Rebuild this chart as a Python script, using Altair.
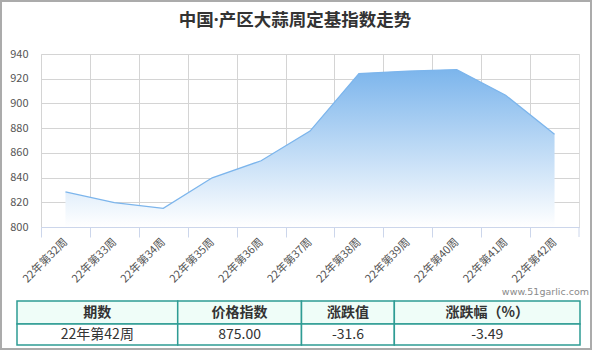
import altair as alt
import pandas as pd

# ---------------- data ----------------
weeks = ["22年第32周", "22年第33周", "22年第34周", "22年第35周", "22年第36周", "22年第37周",
         "22年第38周", "22年第39周", "22年第40周", "22年第41周", "22年第42周"]
index_values = [828.4, 819.7, 815.1, 839.8, 853.6, 877.6, 924.2, 926.2, 927.4, 906.6, 875.0]
y_ticks = [800, 820, 840, 860, 880, 900, 920, 940]

table_header = ["期数", "价格指数", "涨跌值", "涨跌幅（%）"]
table_row = ["22年第42周", "875.00", "-31.6", "-3.49"]

title_text = "中国·产区大蒜周定基指数走势"
watermark = "www.51garlic.com"

# ---------------- layout constants ----------------
W, H = 538, 173             # plot area
PAD_L, PAD_T = 41, 54
FONT = "Noto Sans CJK SC"
col_widths = [161, 124, 93, 186]  # table column widths (px)
row_heights = [23, 21]            # header, data row (px)
TABLE_X = (-24, 539)              # table span relative to plot origin
TABLE_Y = (247, 291)

half_step = W / len(weeks) / 2

df = pd.DataFrame({"week": weeks, "value": index_values})

grad = alt.Gradient(
    gradient="linear",
    stops=[alt.GradientStop(color="#7cb5ec", offset=0),
           alt.GradientStop(color="#ffffff", offset=1)],
    x1=0, x2=0, y1=0, y2=1,
)

x_enc = alt.X(
    "week:N", sort=weeks, title=None,
    scale=alt.Scale(type="point", padding=0.5),
    axis=alt.Axis(
        labelAngle=-45, labelAlign="right", labelBaseline="middle",
        labelFontSize=11, labelColor="#555555", labelFont=FONT, labelPadding=3,
        labelOverlap=False, labelBound=False,
        tickOffset=-half_step, labelOffset=half_step,
        tickSize=10, tickColor="#ccd6eb", domainColor="#ccd6eb",
        grid=True, gridColor="#d4d4d4",
    ),
)
y_enc = alt.Y(
    "value:Q", title=None,
    scale=alt.Scale(domain=[800, 940], zero=False, nice=False),
    axis=alt.Axis(
        values=y_ticks, labelFontSize=11, labelColor="#555555", labelFont=FONT,
        tickSize=0, domain=False, labelPadding=13, gridColor="#d4d4d4",
    ),
)

area = alt.Chart(df).mark_area(color=grad, opacity=1).encode(
    x=x_enc, y=y_enc, y2=alt.Y2(datum=y_ticks[0]))
line = alt.Chart(df).mark_line(color="#7cb5ec", strokeWidth=1.3).encode(x=x_enc, y=y_enc)
main = alt.layer(area, line)

# ---------------- table ----------------
edges = [0]
for w in col_widths:
    edges.append(edges[-1] + w)
redges = [0]
for h in row_heights:
    redges.append(redges[-1] + h)

cells = []
for r, row in enumerate([table_header, table_row]):
    for c, txt in enumerate(row):
        cells.append({
            "x0": edges[c], "x1": edges[c + 1], "xm": (edges[c] + edges[c + 1]) / 2,
            "y0": redges[r], "y1": redges[r + 1], "ym": (redges[r] + redges[r + 1]) / 2,
            "text": txt, "kind": "header" if r == 0 else "data",
        })
tdf = pd.DataFrame(cells)

tx = alt.Scale(domain=[0, edges[-1]], range=list(TABLE_X))
ty = alt.Scale(domain=[0, redges[-1]], range=list(TABLE_Y))

rects = alt.Chart(tdf).mark_rect(stroke="#2e9c94", strokeWidth=1.5).encode(
    x=alt.X("x0:Q", scale=tx, axis=None),
    x2="x1:Q",
    y=alt.Y("y0:Q", scale=ty, axis=None),
    y2="y1:Q",
    fill=alt.Fill("kind:N", scale=alt.Scale(domain=["header", "data"],
                                            range=["#effdf8", "#ffffff"]), legend=None),
)
head_text = alt.Chart(tdf[tdf.kind == "header"]).mark_text(
    font=FONT, fontSize=14, fontWeight="bold", color="#333333", baseline="middle"
).encode(x=alt.X("xm:Q", scale=tx, axis=None), y=alt.Y("ym:Q", scale=ty, axis=None), text="text:N")
data_text = alt.Chart(tdf[tdf.kind == "data"]).mark_text(
    font=FONT, fontSize=14, color="#333333", baseline="middle"
).encode(x=alt.X("xm:Q", scale=tx, axis=None), y=alt.Y("ym:Q", scale=ty, axis=None), text="text:N")

wm = alt.Chart(pd.DataFrame({"t": [watermark], "x": [edges[-1] + 9], "y": [-9]})).mark_text(
    font="DejaVu Sans", fontSize=9.5, color="#8a8a8a", align="right", baseline="middle"
).encode(x=alt.X("x:Q", scale=tx, axis=None), y=alt.Y("y:Q", scale=ty, axis=None), text="t:N")

frame = alt.Chart(pd.DataFrame({"a": [0]})).mark_rect(
    fill=None, stroke="#ababab", strokeWidth=2
).encode(x=alt.value(-PAD_L + 1), x2=alt.value(550), y=alt.value(-PAD_T + 1), y2=alt.value(295))

end_tick = alt.Chart(pd.DataFrame({"a": [0]})).mark_rule(color="#ccd6eb").encode(
    x=alt.value(W), y=alt.value(H), y2=alt.value(H + 10))

title = alt.Chart(pd.DataFrame({"t": [title_text]})).mark_text(
    font="Noto Sans, Noto Sans CJK SC", fontSize=17.5, fontWeight="bold", color="#333333",
    align="center", baseline="middle"
).encode(x=alt.value(295 - PAD_L), y=alt.value(21 - PAD_T), text="t:N")

table = alt.layer(rects, head_text, data_text, wm, frame, end_tick, title)

chart = alt.layer(main, table).resolve_scale(x="independent", y="independent").properties(
    width=W, height=H,
    padding={"left": PAD_L, "top": PAD_T, "right": 594 - PAD_L - W, "bottom": 351 - PAD_T - H},
    autosize=alt.AutoSizeParams(type="none"),
).configure_view(stroke="#d4d4d4").configure(background="white")

chart.save("out.html", embed_options={"renderer": "svg", "actions": False})
